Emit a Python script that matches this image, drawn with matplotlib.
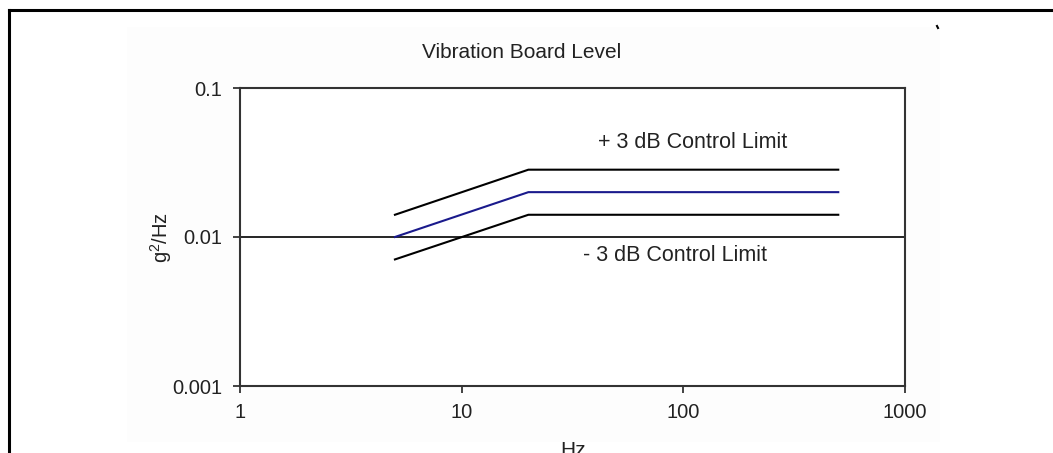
import matplotlib
matplotlib.use("Agg")
from matplotlib import pyplot as plt
from matplotlib.ticker import FixedLocator, FixedFormatter, NullLocator
from matplotlib.lines import Line2D
from matplotlib.patches import Rectangle

plt.rcParams['font.family'] = ['Liberation Sans', 'DejaVu Sans']
plt.rcParams['mathtext.fontset'] = 'custom'
plt.rcParams['mathtext.rm'] = 'Liberation Sans'
plt.rcParams['mathtext.it'] = 'Liberation Sans'

# breakpoints of the vibration profile (Hz, g^2/Hz)
freq = [5, 20, 500]
nominal = [0.01, 0.02, 0.02]
upper = [0.0141, 0.0283, 0.0283]   # +3 dB
lower = [0.00707, 0.0141, 0.0141]  # -3 dB

x_ticks = [1, 10, 100, 1000]
x_labels = ["1", "10", "100", "1000"]
y_ticks = [0.001, 0.01, 0.1]
y_labels = ["0.001", "0.01", "0.1"]

W, H = 1053, 453
fig = plt.figure(figsize=(W / 100, H / 100), dpi=100)
fig.patch.set_facecolor("white")

# faint plot-area backdrop and the outer frame
fig.add_artist(Rectangle((127 / W, 1 - 442 / H), (940 - 127) / W, (442 - 27) / H,
                         transform=fig.transFigure, facecolor="#fdfdfd",
                         edgecolor="none", zorder=-5))
fig.add_artist(Line2D([9 / W, 1.0], [1 - 10 / H, 1 - 10 / H], color="black", lw=2.2))
fig.add_artist(Line2D([9 / W, 9 / W], [1 - 10 / H, 0.0], color="black", lw=2.2))
fig.add_artist(Line2D([937 / W, 938 / W], [1 - 26 / H, 1 - 28 / H], color="black", lw=1.5))

ax = fig.add_axes([240 / W, 1 - 386 / H, (905 - 240) / W, (386 - 88) / H], zorder=2)
ax.set_facecolor("white")
ax.set_xscale("log")
ax.set_yscale("log")
ax.set_xlim(1, 1000)
ax.set_ylim(0.001, 0.1)

ax.plot(freq, upper, color="black", lw=1.5)
ax.plot(freq, nominal, color="#1a1a8c", lw=1.5)
ax.plot(freq, lower, color="black", lw=1.5)

ax.xaxis.set_major_locator(FixedLocator(x_ticks))
ax.xaxis.set_major_formatter(FixedFormatter(x_labels))
ax.yaxis.set_major_locator(FixedLocator(y_ticks))
ax.yaxis.set_major_formatter(FixedFormatter(y_labels))
ax.xaxis.set_minor_locator(NullLocator())
ax.yaxis.set_minor_locator(NullLocator())
ax.tick_params(axis="x", length=5, width=1.2, pad=7, labelsize=14.5, colors="#222222")
ax.tick_params(axis="y", length=5, width=1.2, pad=8, labelsize=14.5, colors="#222222")
ax.yaxis.grid(True, color="black", lw=1.2)
for s in ax.spines.values():
    s.set_linewidth(1.5)
    s.set_color("#333333")

ax.text(41.2, 0.0434, "+ 3 dB Control Limit", fontsize=15.5, color="#222222", va="center")
ax.text(35.3, 0.00757, "- 3 dB Control Limit", fontsize=15.5, color="#222222", va="center")

ax.set_ylabel("g$^{2}$/Hz", fontsize=14.5, color="#222222")
ax.yaxis.set_label_coords(-0.10, 0.5)
ax.set_xlabel("Hz", fontsize=15, color="#222222", va="top")
ax.xaxis.set_label_coords(0.5, -0.185)

fig.text(522 / W, 1 - 52 / H, "Vibration Board Level", fontsize=15, color="#222222",
         ha="center", va="center")

fig.savefig("out.png", dpi=100)
